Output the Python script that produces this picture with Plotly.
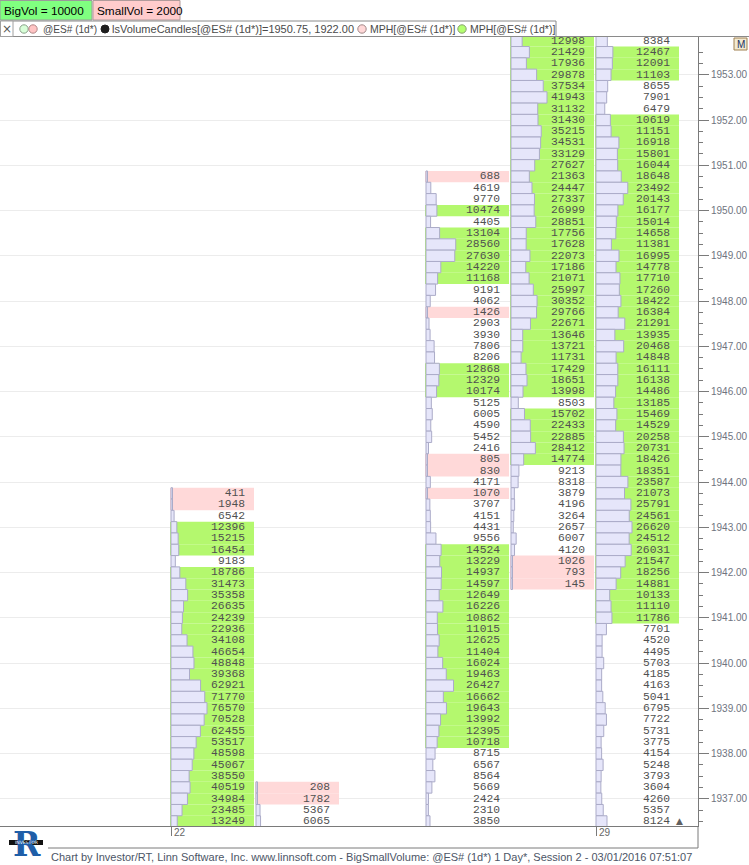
import plotly.graph_objects as go

# ---------------- data ----------------
days = ['22', '23', '24', '25', '26', '29']          # Feb 2016 sessions
labeled_days = ['22', '29']
big_vol = 10000
small_vol = 2000
price_step = 0.25

# highest visible price level of each day's profile (rows run downward by 0.25)
top_price = [1943.75, 1937.25, None, 1950.75, 1953.75, 1953.75]

vol_22 = [411, 1948, 6542, 12396, 15215, 16454, 9183, 18786, 31473, 35358,
          26635, 24239, 22936, 34108, 46654, 48848, 39368, 62921, 71770, 76570,
          70528, 62455, 53517, 48598, 45067, 38550, 40519, 34984, 23485, 13249]
vol_23 = [208, 1782, 5367, 6065]
vol_24 = []
vol_25 = [688, 4619, 9770, 10474, 4405, 13104, 28560, 27630, 14220, 11168,
          9191, 4062, 1426, 2903, 3930, 7806, 8206, 12868, 12329, 10174,
          5125, 6005, 4590, 5452, 2416, 805, 830, 4171, 1070, 3707,
          4151, 4431, 9556, 14524, 13229, 14937, 14597, 12649, 16226, 10862,
          11015, 12625, 11404, 16024, 19463, 26427, 16662, 19643, 13992, 12395,
          10718, 8715, 6567, 8564, 5669, 2424, 2310, 3850]
vol_26 = [12998, 21429, 17936, 29878, 37534, 41943, 31132, 31430, 35215, 34531,
          33129, 27627, 21363, 24447, 27337, 26999, 28851, 17756, 17628, 22073,
          17186, 21071, 25997, 30352, 29766, 22671, 13646, 13721, 11731, 17429,
          18651, 13998, 8503, 15702, 22433, 22885, 28412, 14774, 9213, 8318,
          3879, 4196, 3264, 2657, 6007, 4120, 1026, 793, 145]
vol_29 = [8384, 12467, 12091, 11103, 8655, 7901, 6479, 10619, 11151, 16918,
          15801, 16044, 18648, 23492, 20143, 16177, 15014, 14658, 11381, 16995,
          14778, 17710, 17260, 18422, 16384, 21291, 13935, 20468, 14848, 16111,
          16138, 14486, 13185, 15469, 14529, 20258, 20731, 18426, 18351, 23587,
          21073, 25791, 24561, 26620, 24512, 26031, 21547, 18256, 14881, 10133,
          11110, 11786, 7701, 4520, 4495, 5703, 4185, 4163, 5041, 6795,
          7722, 5731, 3775, 4154, 5248, 3793, 3604, 4260, 5357, 8124]
day_volumes = [vol_22, vol_23, vol_24, vol_25, vol_26, vol_29]

# volume that fills the whole histogram width for each day (day's profile maximum)
day_profile_max = [76570, 48000, 1, 34600, 41943, 26620]

y_ticks = list(range(1937, 1954))

# ---------------- styling ----------------
SLOT_PX = 85.0
BAR_FULL_PX = 36.0
GREEN = '#B4F86E'
PINK = '#FFD9D9'
LAV = '#E6E6FA'
LAV_LINE = '#ABABC8'
NUM_COLOR = '#505050'
AX_COLOR = '#7a7a7a'

W, H = 749, 865
PL, PR, PT, PB = 0, 698, 37, 826


def pxx(x):
    return (x - PL) / (PR - PL)


def pxy(y):
    return (PB - y) / (PB - PT)


# y scale: 1937 at 798.8 px, 45.25 px per point
px_per_pt = 45.25
y_at_1937 = 798.8
y_lo = 1937 - (PB - y_at_1937) / px_per_pt
y_hi = 1937 + (y_at_1937 - PT) / px_per_pt
x_lo = -170 / SLOT_PX
x_hi = x_lo + (PR - PL) / SLOT_PX

bg_y, bg_x, bg_base, bg_col = [], [], [], []
bar_y, bar_x, bar_base = [], [], []
txt_x, txt_y, txt_t = [], [], []
for i, vols in enumerate(day_volumes):
    if not vols:
        continue
    for k, v in enumerate(vols):
        p = top_price[i] - k * price_step
        if v >= big_vol or v <= small_vol:
            bg_y.append(p)
            bg_x.append(84 / SLOT_PX)
            bg_base.append(i)
            bg_col.append(GREEN if v >= big_vol else PINK)
        bar_y.append(p)
        bar_x.append(max(v / day_profile_max[i] * BAR_FULL_PX, 1.5) / SLOT_PX)
        bar_base.append(i + 1 / SLOT_PX)
        txt_x.append(i + 75 / SLOT_PX)
        txt_y.append(p)
        txt_t.append(str(v))

fig = go.Figure()
fig.add_trace(go.Bar(orientation='h', y=bg_y, x=bg_x, base=bg_base, width=price_step,
                     marker=dict(color=bg_col, line=dict(width=0)), hoverinfo='skip',
                     showlegend=False))
fig.add_trace(go.Bar(orientation='h', y=bar_y, x=bar_x, base=bar_base, width=price_step,
                     marker=dict(color=LAV, line=dict(width=1, color=LAV_LINE)),
                     hoverinfo='skip', showlegend=False))
fig.add_trace(go.Scatter(x=txt_x, y=txt_y, text=txt_t, mode='text',
                         textposition='middle left',
                         textfont=dict(family='Liberation Mono', size=11.3, color=NUM_COLOR),
                         hoverinfo='skip', showlegend=False))

shapes = []
annos = []

# header boxes
shapes.append(dict(type='rect', xref='paper', yref='paper', x0=pxx(0), x1=pxx(92),
                   y0=pxy(20), y1=pxy(0.5), fillcolor='#80FF80',
                   line=dict(color='#9a9a9a', width=1), layer='above'))
shapes.append(dict(type='rect', xref='paper', yref='paper', x0=pxx(93), x1=pxx(180),
                   y0=pxy(20), y1=pxy(0.5), fillcolor='#FFCCCC',
                   line=dict(color='#b09a9a', width=1), layer='above'))
annos.append(dict(xref='paper', yref='paper', x=pxx(2), y=pxy(10.5), xanchor='left',
                  yanchor='middle', showarrow=False, text='BigVol = 10000',
                  font=dict(family='Liberation Sans', size=11.8, color='#000')))
annos.append(dict(xref='paper', yref='paper', x=pxx(95), y=pxy(10.5), xanchor='left',
                  yanchor='middle', showarrow=False, text='SmallVol = 2000',
                  font=dict(family='Liberation Sans', size=11.8, color='#000')))

# indicator strip
shapes.append(dict(type='line', xref='paper', yref='paper', x0=pxx(0), x1=pxx(W),
                   y0=pxy(36.5), y1=pxy(36.5), line=dict(color='#8a8a8a', width=1)))
shapes.append(dict(type='rect', xref='paper', yref='paper', x0=pxx(0.5), x1=pxx(556),
                   y0=pxy(36.5), y1=pxy(21), fillcolor='#ffffff',
                   line=dict(color='#8a8a8a', width=1), layer='above'))
shapes.append(dict(type='rect', xref='paper', yref='paper', x0=pxx(0.5), x1=pxx(13),
                   y0=pxy(36.5), y1=pxy(21), fillcolor='#ffffff',
                   line=dict(color='#a0a0a0', width=1), layer='above'))
annos.append(dict(xref='paper', yref='paper', x=pxx(7), y=pxy(29), xanchor='center',
                  yanchor='middle', showarrow=False, text='×',
                  font=dict(family='DejaVu Sans', size=12, color='#555')))


def circle(cx, cy, r, fill, line):
    return dict(type='circle', xref='paper', yref='paper', x0=pxx(cx - r), x1=pxx(cx + r),
                y0=pxy(cy + r), y1=pxy(cy - r), fillcolor=fill,
                line=dict(color=line, width=1), layer='above')


shapes.append(circle(24, 29, 4.2, '#d8ffd8', '#8aa08a'))
shapes.append(circle(33, 29, 4.2, '#ffc4c4', '#b08888'))
shapes.append(circle(105, 29, 4.0, '#1e1e1e', '#1e1e1e'))
shapes.append(circle(362, 29, 4.2, '#ffd8d8', '#a08888'))
shapes.append(circle(462, 29, 4.2, '#b4ff70', '#88a070'))
for xx, t, fs in [(41, '@ES# (1d*)', 10.1), (110, 'lsVolumeCandles[@ES# (1d*)]=1950.75, 1922.00', 11.0),
                  (368, 'MPH[@ES# (1d*)]', 10.5), (468, 'MPH[@ES# (1d*)]', 10.5)]:
    annos.append(dict(xref='paper', yref='paper', x=pxx(xx), y=pxy(29), xanchor='left',
                      yanchor='middle', showarrow=False, text=t,
                      font=dict(family='Liberation Sans', size=fs, color='#4a4a4a')))

# M button
shapes.append(dict(type='rect', xref='paper', yref='paper', x0=pxx(734), x1=pxx(747),
                   y0=pxy(50), y1=pxy(38), fillcolor='#f2ead2',
                   line=dict(color='#a08050', width=1), layer='above'))
annos.append(dict(xref='paper', yref='paper', x=pxx(740.5), y=pxy(44), xanchor='center',
                  yanchor='middle', showarrow=False, text='M',
                  font=dict(family='Liberation Sans', size=10, color='#203060')))

# bottom triangle
annos.append(dict(xref='paper', yref='paper', x=pxx(679), y=pxy(821), xanchor='center',
                  yanchor='middle', showarrow=False, text='▲',
                  font=dict(family='DejaVu Sans', size=9, color='#606060')))

# x day labels
for d in labeled_days:
    i = days.index(d)
    annos.append(dict(xref='x', yref='paper', x=i + 1 / SLOT_PX, y=0, xanchor='left',
                      yanchor='top', xshift=1, yshift=1, showarrow=False, text=d,
                      font=dict(family='Liberation Sans', size=10, color='#666')))

# footer frame
shapes.append(dict(type='line', xref='paper', yref='paper', x0=pxx(PR), x1=pxx(PR),
                   y0=pxy(PB), y1=pxy(848), line=dict(color=AX_COLOR, width=1)))
shapes.append(dict(type='line', xref='paper', yref='paper', x0=pxx(48), x1=pxx(PR),
                   y0=pxy(848), y1=pxy(848), line=dict(color=AX_COLOR, width=1)))
annos.append(dict(xref='paper', yref='paper', x=pxx(49), y=pxy(857), xanchor='left',
                  yanchor='middle', showarrow=False,
                  text='Chart by Investor/RT, Linn Software, Inc. www.linnsoft.com - '
                       'BigSmallVolume: @ES# (1d*) 1 Day*, Session 2 - 03/01/2016 07:51:07',
                  font=dict(family='Liberation Sans', size=11.0, color='#4c5566')))

# logo
annos.append(dict(xref='paper', yref='paper', x=pxx(27), y=pxy(844), xanchor='center',
                  yanchor='middle', showarrow=False, text='<b>R</b>',
                  font=dict(family='DejaVu Serif', size=33, color='#1f5ea8')))
shapes.append(dict(type='rect', xref='paper', yref='paper', x0=pxx(9), x1=pxx(43),
                   y0=pxy(845), y1=pxy(840), fillcolor='#111', line=dict(width=0),
                   layer='above'))
annos.append(dict(xref='paper', yref='paper', x=pxx(26), y=pxy(842.5), xanchor='center',
                  yanchor='middle', showarrow=False, text='INVESTOR',
                  font=dict(family='DejaVu Sans', size=4.5, color='#fff')))

fig.update_layout(
    width=W, height=H,
    margin=dict(l=PL, r=W - PR, t=PT, b=H - PB),
    paper_bgcolor='#ffffff', plot_bgcolor='#ffffff',
    barmode='overlay', showlegend=False,
    shapes=shapes, annotations=annos,
    xaxis=dict(range=[x_lo, x_hi], showgrid=False, zeroline=False,
               tickvals=[days.index(d) + 1 / SLOT_PX for d in labeled_days],
               ticks='outside', ticklen=9, tickcolor=AX_COLOR, showticklabels=False,
               showline=True, linecolor=AX_COLOR, linewidth=1, fixedrange=True),
    yaxis=dict(range=[y_lo, y_hi], side='right', tickvals=y_ticks,
               ticktext=[f'{t:.2f}' for t in y_ticks],
               ticks='outside', ticklen=10, tickcolor=AX_COLOR,
               tickfont=dict(family='Liberation Sans', size=10, color='#6f7480'),
               showgrid=True, gridcolor='#ececec', gridwidth=1, zeroline=False,
               showline=True, linecolor=AX_COLOR, linewidth=1,
               minor=dict(tickvals=[y_ticks[0] - 0.5 + k * price_step
                                    for k in range(int((y_ticks[-1] - y_ticks[0] + 1) / price_step) + 1)],
                          ticks='outside', ticklen=4, tickcolor=AX_COLOR, showgrid=False),
               fixedrange=True),
)

fig.write_html('out.html', config={'displayModeBar': False},
               post_script="document.body.style.margin='0';document.body.style.overflow='hidden';")
